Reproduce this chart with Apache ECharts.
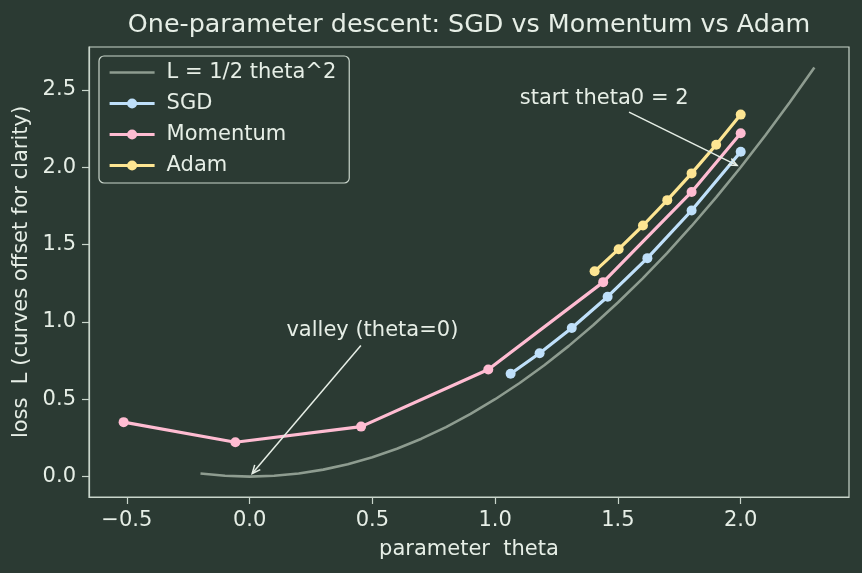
<!DOCTYPE html>
<html>
<head>
<meta charset="utf-8">
<script src="https://cdn.jsdelivr.net/npm/echarts@6/dist/echarts.min.js"></script>
<style>
html,body{margin:0;padding:0;background:#2b3a33;}
#chart{width:862px;height:573px;}
</style>
</head>
<body>
<div id="chart"></div>
<script>
// ---- data ----
var curveTheta = [-0.2,-0.1,0.0,0.1,0.2,0.3,0.4,0.5,0.6,0.7,0.8,0.9,1.0,1.1,1.2,1.3,1.4,1.5,1.6,1.7,1.8,1.9,2.0,2.1,2.2,2.3];
var curveLoss  = [0.02,0.005,0.0,0.005,0.02,0.045,0.08,0.125,0.18,0.245,0.32,0.405,0.5,0.605,0.72,0.845,0.98,1.125,1.28,1.445,1.62,1.805,2.0,2.205,2.42,2.645];

var sgdTheta = [2.0,1.8,1.62,1.458,1.312,1.181,1.063];
var sgdLoss  = [2.1,1.72,1.412,1.163,0.961,0.797,0.665];

var momTheta = [2.0,1.8,1.44,0.972,0.454,-0.058,-0.513];
var momLoss  = [2.22,1.84,1.257,0.692,0.323,0.222,0.352];

var adamTheta = [2.0,1.9,1.8,1.701,1.602,1.503,1.405];
var adamLoss  = [2.34,2.145,1.96,1.787,1.623,1.47,1.327];

var xTicks = [-0.5,0.0,0.5,1.0,1.5,2.0];
var yTicks = [0.0,0.5,1.0,1.5,2.0,2.5];

var seriesNames = ['L = 1/2 theta^2','SGD','Momentum','Adam'];

var annTexts  = ['start theta0 = 2','valley (theta=0)'];
var annTextAt = [[1.1,2.4],[0.15,0.9]];
var annTarget = [[2.0,2.0],[0.0,0.0]];

// ---- styling ----
var BG = '#2b3a33';
var FG = '#e6eee6';
var SPINE = '#c9d5cb';
var FONT = 'DejaVu Sans';
var FS = 21;

function zip(a,b){ return a.map(function(v,i){ return [v,b[i]]; }); }
function fmt(v){ return v.toFixed(1).replace('-', '\u2212'); }

var measureCtx = document.createElement('canvas').getContext('2d');
function textWidth(t){ measureCtx.font = FS + 'px "' + FONT + '"'; return measureCtx.measureText(t).width; }

var chart = echarts.init(document.getElementById('chart'), null, {renderer:'canvas'});

function lineSeries(name, xs, ys, color){
  return {
    name:name, type:'line', data:zip(xs,ys),
    symbol:'circle', symbolSize:10, showSymbol:true,
    lineStyle:{color:color,width:3.2},
    itemStyle:{color:color},
    emphasis:{disabled:true}, animation:false, z:3
  };
}

var option = {
  backgroundColor: BG,
  animation:false,
  textStyle:{fontFamily:FONT},
  title:{
    text:'One-parameter descent: SGD vs Momentum vs Adam',
    left:464, textAlign:'center', top:8,
    textStyle:{color:FG,fontSize:25.4,fontWeight:'normal',fontFamily:FONT}
  },
  grid:{left:89,right:13,top:47,bottom:76,show:true,borderColor:SPINE,borderWidth:1.2,backgroundColor:'transparent'},
  legend:{
    orient:'vertical', left:99, top:56,
    data:[
      {name:seriesNames[0], icon:'path://M0,0 L45,0 L45,2.6 L0,2.6 Z'},
      {name:seriesNames[1]},
      {name:seriesNames[2]},
      {name:seriesNames[3]}
    ],
    itemWidth:45, itemHeight:12.5, itemGap:10,
    padding:[6,13,7,9],
    backgroundColor:BG, borderColor:SPINE, borderWidth:1.2, borderRadius:5,
    lineStyle:{width:3.2},
    textStyle:{color:FG,fontSize:FS,fontFamily:FONT,lineHeight:21,padding:[0,0,0,7]},
    selectedMode:false
  },
  xAxis:{
    type:'value', min:-0.654, max:2.441,
    name:'parameter  theta', nameLocation:'middle', nameGap:42,
    nameTextStyle:{color:FG,fontSize:FS,fontFamily:FONT},
    axisLine:{show:true,onZero:false,lineStyle:{color:SPINE,width:1.2}},
    axisTick:{show:true,inside:false,length:7,lineStyle:{color:SPINE,width:1.2},customValues:xTicks},
    axisLabel:{color:FG,fontSize:FS,fontFamily:FONT,margin:13,customValues:xTicks,formatter:fmt},
    splitLine:{show:false}
  },
  yAxis:{
    type:'value', min:-0.132, max:2.777,
    name:'loss  L (curves offset for clarity)', nameLocation:'middle', nameGap:57,
    nameTextStyle:{color:FG,fontSize:FS,fontFamily:FONT},
    axisLine:{show:true,onZero:false,lineStyle:{color:SPINE,width:1.2}},
    axisTick:{show:true,inside:false,length:7,lineStyle:{color:SPINE,width:1.2},customValues:yTicks},
    axisLabel:{color:FG,fontSize:FS,fontFamily:FONT,margin:13,customValues:yTicks,formatter:fmt},
    splitLine:{show:false}
  },
  series:[
    {
      name:seriesNames[0], type:'line', data:zip(curveTheta,curveLoss),
      symbol:'none', showSymbol:false,
      lineStyle:{color:'#8e9c90',width:2.6},
      itemStyle:{color:'#8e9c90'},
      emphasis:{disabled:true}, z:2
    },
    lineSeries(seriesNames[1], sgdTheta, sgdLoss, '#bfe0fa'),
    lineSeries(seriesNames[2], momTheta, momLoss, '#ffbcd2'),
    lineSeries(seriesNames[3], adamTheta, adamLoss, '#fde592'),
    {
      type:'custom', z:10, silent:true,
      data:annTexts.map(function(t,i){ return [i]; }),
      renderItem:function(params, api){
        var i = api.value(0);
        var txt = annTexts[i];
        var p = api.coord(annTextAt[i]);
        var tgt = api.coord(annTarget[i]);
        var w = textWidth(txt);
        var top = p[1] - 0.76*FS, bot = p[1] + 0.24*FS;
        var cx = p[0] + w/2, cy = (top+bot)/2;
        var dx = tgt[0]-cx, dy = tgt[1]-cy;
        var ts = [];
        if (dx !== 0) ts.push(((dx>0? p[0]+w : p[0]) - cx)/dx);
        if (dy !== 0) ts.push(((dy>0? bot : top) - cy)/dy);
        var t = Math.min.apply(null, ts.filter(function(v){return v>0;}));
        var L = Math.sqrt(dx*dx+dy*dy);
        var ux = dx/L, uy = dy/L;
        var sx = cx + dx*t + ux*4, sy = cy + dy*t + uy*4;
        var ex = tgt[0] - ux*4, ey = tgt[1] - uy*4;
        var hl = 9, ang = 0.42;
        function rot(a){ return [-(ux*Math.cos(a) - uy*Math.sin(a)), -(ux*Math.sin(a) + uy*Math.cos(a))]; }
        var h1 = rot(ang), h2 = rot(-ang);
        var st = {stroke:FG, lineWidth:1.5, fill:null};
        return {
          type:'group',
          children:[
            {type:'text', style:{text:txt, x:p[0], y:p[1]-0.32*FS, fill:FG, font:FS+'px "'+FONT+'"', align:'left', verticalAlign:'middle'}},
            {type:'line', shape:{x1:sx,y1:sy,x2:ex,y2:ey}, style:st},
            {type:'polyline', shape:{points:[[ex+h1[0]*hl, ey+h1[1]*hl],[ex,ey],[ex+h2[0]*hl, ey+h2[1]*hl]]}, style:st}
          ]
        };
      }
    }
  ]
};
chart.setOption(option);
</script>
</body>
</html>
